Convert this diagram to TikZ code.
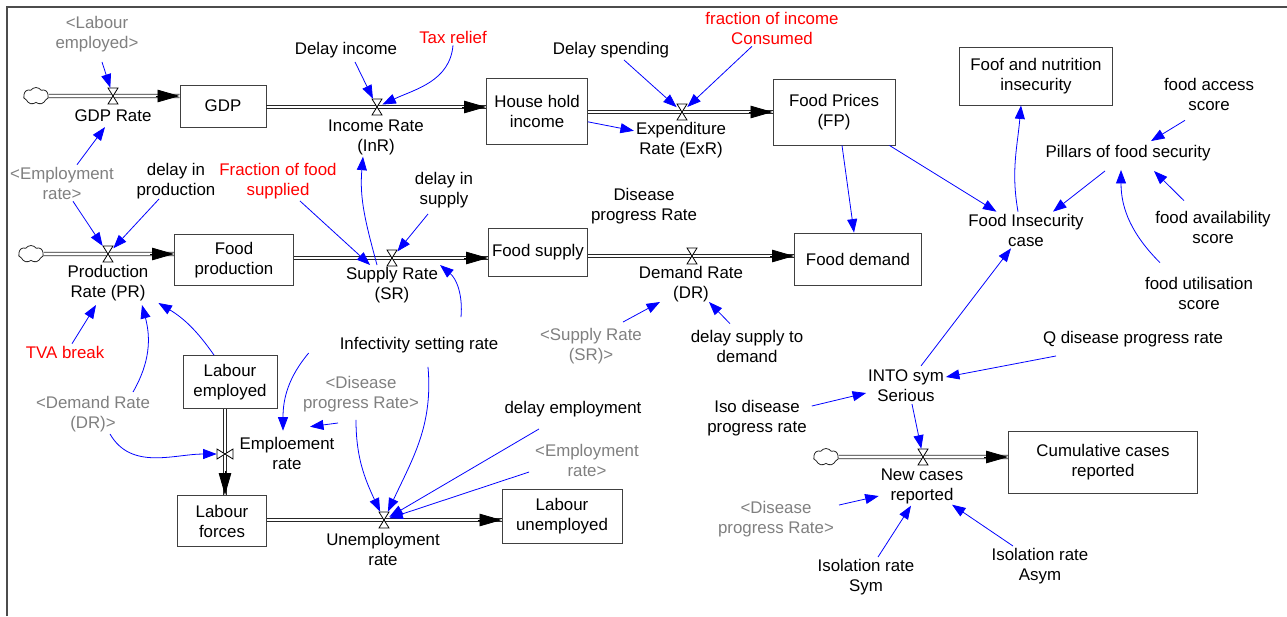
\documentclass[tikz,border=0pt]{standalone}
\usepackage{fontspec}
\setmainfont{Liberation Sans}
\usetikzlibrary{arrows.meta,shapes.symbols}

\tikzset{
  stock/.style={draw=black!75, line width=0.5pt, align=center, inner sep=0pt},
  var/.style={align=center, inner sep=1pt},
  shadowvar/.style={var, text=black!50},
  redvar/.style={var, text=red},
  link/.style={draw=blue, line width=0.45pt, -{Triangle[length=0.27cm,width=0.2cm]}},
  pipeline/.style={draw=black!85, line width=0.45pt},
  pipeup/.style={pipeline, transform canvas={yshift=0.035cm}},
  pipedown/.style={pipeline, transform canvas={yshift=-0.035cm}},
  pipeleft/.style={pipeline, transform canvas={xshift=-0.035cm}},
  piperight/.style={pipeline, transform canvas={xshift=0.035cm}},
  flowtip/.style={line width=0.45pt, -{Triangle[length=0.44cm,width=0.25cm]}},
  valve/.style={inner sep=0pt, minimum width=0.2cm, minimum height=0.32cm},
  vvalve/.style={inner sep=0pt, minimum width=0.32cm, minimum height=0.2cm},
  cloudy/.style={cloud, draw=black!85, line width=0.45pt, cloud puffs=7, cloud puff arc=110, aspect=1.5,
    minimum width=0.5cm, minimum height=0.34cm, inner sep=0pt},
  hourglass/.pic={\draw[line width=0.45pt, fill=white] (-5,-8) -- (5,-8) -- (-5,8) -- (5,8) -- cycle;},
}

\begin{document}
\begin{tikzpicture}[x=0.02cm, y=-0.02cm, font=\fontsize{9.6}{11.4}\selectfont]
\useasboundingbox (0,0) rectangle (1287,616);

% Drawing frame
\draw[black!70, line width=0.6pt] (7,616) -- (7,7) -- (1287,7);%

% Drawing stocks
\node[stock, minimum width=1.72cm, minimum height=0.84cm] (gdp) at (223,106) {GDP};%
\node[stock, minimum width=2.02cm, minimum height=1.32cm] (hhinc) at (537,111) {House hold\\income};%
\node[stock, minimum width=2.44cm, minimum height=1.32cm] (fprice) at (834,112) {Food Prices\\(FP)};%
\node[stock, minimum width=3.06cm, minimum height=1.16cm] (fninsec) at (1036,76) {Foof and nutrition\\insecurity};%
\node[stock, minimum width=2.38cm, minimum height=1.02cm] (fprod) at (234,260) {Food\\production};%
\node[stock, minimum width=1.98cm, minimum height=0.96cm] (fsupply) at (538,252) {Food supply};%
\node[stock, minimum width=2.54cm, minimum height=1.04cm] (fdemand) at (858,259) {Food demand};%
\node[stock, minimum width=1.88cm, minimum height=1.06cm] (labemp) at (230,382) {Labour\\employed};%
\node[stock, minimum width=1.78cm, minimum height=1.02cm] (labfor) at (222,521) {Labour\\forces};%
\node[stock, minimum width=2.40cm, minimum height=1.08cm] (labunemp) at (562,516) {Labour\\unemployed};%
\node[stock, minimum width=3.78cm, minimum height=1.24cm] (cumcases) at (1103,462) {Cumulative cases\\reported};%

% Drawing clouds
\node[cloudy] (gdpcloud) at (36,96) {};%
\node[cloudy] (prcloud) at (31,254) {};%
\node[cloudy] (nccloud) at (826,457) {};%

% Placing valves
\node[valve] (gdprv) at (113,96) {};%
\node[valve] (inrv) at (377,107) {};%
\node[valve] (exrv) at (682,112) {};%
\node[valve] (prv) at (108,254) {};%
\node[valve] (srv) at (392,258) {};%
\node[valve] (drv) at (692,256) {};%
\node[vvalve] (empv) at (225,454) {};%
\node[valve] (unv) at (384,520) {};%
\node[valve] (ncv) at (923,457) {};%

% Drawing pipes
\coordinate (gdpin) at (gdp.west |- gdprv);%
\draw[pipeup] (gdpcloud.east) -- (gdpin);%
\draw[pipedown] (gdpcloud.east) -- (gdpin);%
\draw[flowtip] ([shift={(-24,0)}]gdpin) -- (gdpin);%

\coordinate (inrout) at (gdp.east |- inrv);%
\coordinate (inrin) at (hhinc.west |- inrv);%
\draw[pipeup] (inrout) -- (inrin);%
\draw[pipedown] (inrout) -- (inrin);%
\draw[flowtip] ([shift={(-24,0)}]inrin) -- (inrin);%

\coordinate (exrout) at (hhinc.east |- exrv);%
\coordinate (exrin) at (fprice.west |- exrv);%
\draw[pipeup] (exrout) -- (exrin);%
\draw[pipedown] (exrout) -- (exrin);%
\draw[flowtip] ([shift={(-24,0)}]exrin) -- (exrin);%

\coordinate (prin) at (fprod.west |- prv);%
\draw[pipeup] (prcloud.east) -- (prin);%
\draw[pipedown] (prcloud.east) -- (prin);%
\draw[flowtip] ([shift={(-24,0)}]prin) -- (prin);%

\coordinate (srout) at (fprod.east |- srv);%
\coordinate (srin) at (fsupply.west |- srv);%
\draw[pipeup] (srout) -- (srin);%
\draw[pipedown] (srout) -- (srin);%
\draw[flowtip] ([shift={(-24,0)}]srin) -- (srin);%

\coordinate (drout) at (fsupply.east |- drv);%
\coordinate (drin) at (fdemand.west |- drv);%
\draw[pipeup] (drout) -- (drin);%
\draw[pipedown] (drout) -- (drin);%
\draw[flowtip] ([shift={(-24,0)}]drin) -- (drin);%

\coordinate (empout) at (labemp.south -| empv);%
\coordinate (empin) at (labfor.north -| empv);%
\draw[pipeleft] (empout) -- (empin);%
\draw[piperight] (empout) -- (empin);%
\draw[flowtip] ([shift={(0,-24)}]empin) -- (empin);%

\coordinate (unout) at (labfor.east |- unv);%
\coordinate (unin) at (labunemp.west |- unv);%
\draw[pipeup] (unout) -- (unin);%
\draw[pipedown] (unout) -- (unin);%
\draw[flowtip] ([shift={(-24,0)}]unin) -- (unin);%

\coordinate (ncin) at (cumcases.west |- ncv);%
\draw[pipeup] (nccloud.east) -- (ncin);%
\draw[pipedown] (nccloud.east) -- (ncin);%
\draw[flowtip] ([shift={(-24,0)}]ncin) -- (ncin);%

% Drawing valves
\pic at (gdprv) {hourglass};%
\pic at (inrv) {hourglass};%
\pic at (exrv) {hourglass};%
\pic at (prv) {hourglass};%
\pic at (srv) {hourglass};%
\pic at (drv) {hourglass};%
\pic[rotate=90] at (empv) {hourglass};%
\pic at (unv) {hourglass};%
\pic at (ncv) {hourglass};%

% Marking flow names
\node[var] (gdprlbl) at (113,116) {GDP Rate};%
\node[var] (inrlbl) at (376,137) {Income Rate\\(InR)};%
\node[var] (exrlbl) at (681,140) {Expenditure\\Rate (ExR)};%
\node[var] (prlbl) at (108,283) {Production\\Rate (PR)};%
\node[var] (srlbl) at (392,285) {Supply Rate\\(SR)};%
\node[var] (drlbl) at (691,284) {Demand Rate\\(DR)};%
\node[var] (emplbl) at (287,453) {Emploement\\rate};%
\node[var] (unlbl) at (383,549) {Unemployment\\rate};%
\node[var] (nclbl) at (922,486) {New cases\\reported};%

% Marking auxiliaries
\node[shadowvar] (labemp1) at (97,34) {<Labour\\employed>};%
\node[var] (delayinc) at (346,50) {Delay income};%
\node[redvar] (taxrelief) at (453,37) {Tax relief};%
\node[var] (delayspend) at (611,50) {Delay spending};%
\node[redvar] (fracinc) at (772,28) {fraction of income\\Consumed};%
\node[shadowvar] (emprate1) at (62,183) {<Employment\\rate>};%
\node[var] (delayprod) at (176,181) {delay in\\production};%
\node[redvar] (fracfood) at (278,181) {Fraction of food\\supplied};%
\node[var] (delaysup) at (444,190) {delay in\\supply};%
\node[var] (disprog) at (644,206) {Disease\\progress Rate};%
\node[var] (foodaccess) at (1209,94) {food access\\score};%
\node[var] (pillars) at (1128,153) {Pillars of food security};%
\node[var] (fic) at (1026,230) {Food Insecurity\\case};%
\node[var] (foodavail) at (1213,227) {food availability\\score};%
\node[var] (foodutil) at (1199,293) {food utilisation\\score};%
\node[redvar] (tva) at (65,352) {TVA break};%
\node[shadowvar] (demrate2) at (93,414) {<Demand Rate\\(DR)>};%
\node[var] (infect) at (419,345) {Infectivity setting rate};%
\node[shadowvar] (disprog1) at (361,394) {<Disease\\progress Rate>};%
\node[var] (delayemp) at (573,409) {delay employment};%
\node[shadowvar] (emprate2) at (587,460) {<Employment\\rate>};%
\node[shadowvar] (suprlbl2) at (591,346) {<Supply Rate\\(SR)>};%
\node[var] (delaysd) at (747,346) {delay supply to\\demand};%
\node[var] (qdis) at (1133,339) {Q disease progress rate};%
\node[var] (into) at (906,386) {INTO sym\\Serious};%
\node[var] (isodis) at (757,418) {Iso disease\\progress rate};%
\node[shadowvar] (disprog2) at (776,519) {<Disease\\progress Rate>};%
\node[var] (isosym) at (866,577) {Isolation rate\\Sym};%
\node[var] (isoasym) at (1040,566) {Isolation rate\\Asym};%

% Drawing links to the income side
\draw[link] ([shift={(5,8)}]labemp1.south) -- (gdprv);%
\draw[link] ([shift={(9,2)}]delayinc.south) -- (inrv);%
\draw[link] (taxrelief.south) to[out=-95,in=25] (inrv);%
\draw[link] ([shift={(13,0)}]delayspend.south) -- (exrv);%
\draw[link] ([shift={(-20,0)}]fracinc.south) -- (exrv);%
\draw[link] (hhinc.-12) -- (exrlbl);%

% Drawing links to production and supply
\draw[link] ([shift={(15,0)}]emprate1.north) -- ([shift={(-8,3)}]gdprlbl.south);%
\draw[link] ([shift={(11,0)}]emprate1.south) -- (prv);%
\draw[link] ([shift={(-17,-2)}]delayprod.south) -- (prv);%
\draw[link] ([shift={(22,0)}]fracfood.south) -- (srlbl);%
\draw[link] ([shift={(-15,0)}]srlbl.north) to[out=105,in=-95] ([shift={(-13,0)}]inrlbl.south);%
\draw[link] ([shift={(-16,4)}]delaysup.south) -- (srv);%
\draw[link] ([shift={(42,-18)}]infect.north) to[out=85,in=-40] (srlbl.north east);%
\draw[link] ([shift={(7,0)}]tva.north) -- ([shift={(-12,2)}]prlbl.south);%
\draw[link] ([shift={(40,-2)}]demrate2.north) to[out=60,in=-75] ([shift={(34,2)}]prlbl.south);%
\draw[link] ([shift={(-16,0)}]labemp.north) to[bend right=12] ([shift={(8,0)}]prlbl.south east);%

% Drawing links to the food side
\draw[link] ([shift={(8,0)}]fprice.south) -- ([shift={(-4,0)}]fdemand.north);%
\draw[link] ([shift={(-6,0)}]fprice.south east) -- (fic);%
\draw[link] ([shift={(-8,0)}]fic.north) to[out=100,in=-95] ([shift={(-15,0)}]fninsec.south);%
\draw[link] ([shift={(-23,8)}]pillars.south) -- ([shift={(27,0)}]fic.north);%
\draw[link] ([shift={(-24,8)}]foodaccess.south) -- ([shift={(23,-2)}]pillars.north);%
\draw[link] ([shift={(-29,-8)}]foodavail.north) -- ([shift={(26,8)}]pillars.south);%
\draw[link] ([shift={(-39,-12)}]foodutil.north) to[out=135,in=-90] ([shift={(-7,7)}]pillars.south);%
\draw[link] ([shift={(32,-4)}]suprlbl2.north) -- ([shift={(-31,-2)}]drlbl.south);%
\draw[link] ([shift={(-17,-4)}]delaysd.north) -- ([shift={(18,-2)}]drlbl.south);%

% Drawing links to the labour side
\draw[link] ([shift={(17,0)}]demrate2.south) to[out=-60,in=180] (empv);%
\draw[link] ([shift={(-29,8)}]infect.west) to[out=-130,in=90] ([shift={(-4,-4)}]emplbl.north);%
\draw[link] ([shift={(-23,9)}]disprog1.south) -- ([shift={(23,-8)}]emplbl.north);%
\draw[link] ([shift={(-5,6)}]disprog1.south) to[out=-90,in=115] (unv);%
\draw[link] ([shift={(9,12)}]infect.south) to[out=-85,in=65] (unv);%
\draw[link] ([shift={(-34,10)}]delayemp.south) -- (unv);%
\draw[link] ([shift={(-4,12)}]emprate2.west) -- (unv);%

% Drawing links to the cases side
\draw[link] ([shift={(15,-2)}]into.north) -- ([shift={(-15,0)}]fic.south);%
\draw[link] ([shift={(-77,7)}]qdis.south) -- ([shift={(0,-9)}]into.east);%
\draw[link] ([shift={(3,8)}]isodis.north east) -- ([shift={(0,7)}]into.west);%
\draw[link] ([shift={(6,0)}]into.south) -- (ncv);%
\draw[link] ([shift={(3,6)}]disprog2.north east) -- ([shift={(0,10)}]nclbl.west);%
\draw[link] ([shift={(12,0)}]isosym.north) -- ([shift={(-11,0)}]nclbl.south);%
\draw[link] ([shift={(-27,0)}]isoasym.north) -- ([shift={(30,-1)}]nclbl.south);%
\end{tikzpicture}
\end{document}
